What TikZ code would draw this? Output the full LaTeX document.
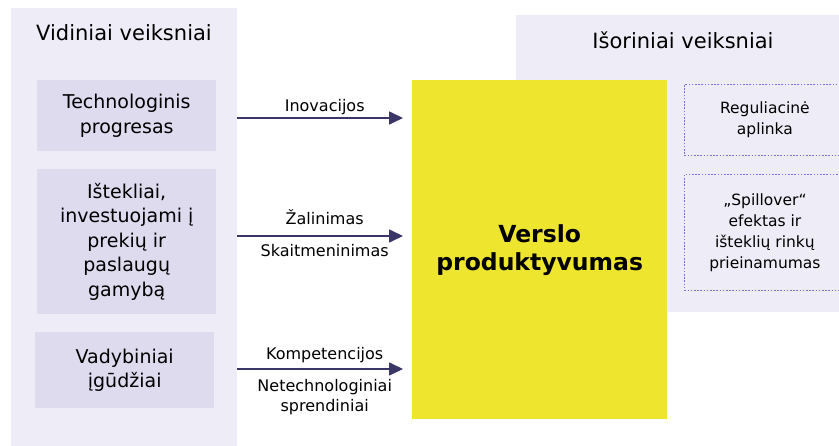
\documentclass[tikz,border=0pt]{standalone}
\usepackage{fontspec}
\setmainfont{DejaVu Sans}
\usetikzlibrary{arrows.meta,positioning}
\definecolor{panelfill}{HTML}{EEEDF7}
\definecolor{boxfill}{HTML}{DFDBEF}
\definecolor{prodyellow}{HTML}{EDE52E}
\definecolor{arrowcol}{HTML}{3B3668}
\definecolor{dashcol}{HTML}{7A6FD6}
\tikzset{
  panel/.style={fill=panelfill,anchor=north west,inner sep=0pt},
  factor/.style={fill=boxfill,anchor=north west,inner sep=0pt,align=center,
    font=\fontsize{19}{24.5}\selectfont},
  extfactor/.style={draw=dashcol,line width=0.8pt,dash pattern=on 1.6pt off 1.6pt,
    anchor=north west,inner sep=0pt,align=center,font=\fontsize{15.5}{21}\selectfont},
  title/.style={font=\fontsize{21}{25}\selectfont},
  flow/.style={draw=arrowcol,line width=1.6pt,-{Triangle[length=14pt,width=13pt]}},
  lbl/.style={anchor=base,align=center,inner sep=0pt,font=\fontsize{16}{20}\selectfont}
}
\begin{document}
\begin{tikzpicture}[x=1pt,y=-1pt]
\useasboundingbox (0,0) rectangle (839,446);
\node[panel,minimum width=226pt,minimum height=440pt] (vid) at (11,8) {};
\node[title] (vidtitle) at (124,33) {Vidiniai veiksniai};
\node[factor,minimum width=179pt,minimum height=71pt] (tech) at (37,80) {Technologinis\\progresas};
\node[factor,minimum width=179pt,minimum height=145pt] (res) at (37,169) {Ištekliai,\\investuojami į\\prekių ir\\paslaugų\\gamybą};
\node[factor,minimum width=179pt,minimum height=76pt] (mgmt) at (35,332) {Vadybiniai\\įgūdžiai};
\node[panel,minimum width=330pt,minimum height=297pt] (isor) at (516,15) {};
\node[title] (isortitle) at (683,40) {Išoriniai veiksniai};
\node[panel,fill=prodyellow,minimum width=255pt,minimum height=339pt,align=center,
  font=\bfseries\fontsize{23.5}{28}\selectfont] (prod) at (412,80) {Verslo\\produktyvumas};
\node[extfactor,minimum width=161pt,minimum height=71pt] (reg) at (684,84) {Reguliacinė\\aplinka};
\node[extfactor,minimum width=161pt,minimum height=116pt] (spill) at (684,174) {„Spillover“\\efektas ir\\išteklių rinkų\\prieinamumas};
\coordinate (a1) at (vid.east |- 0,118);
\coordinate (a2) at (vid.east |- 0,236);
\coordinate (a3) at (vid.east |- 0,369);
\draw[flow,shorten >=9pt] (a1) -- (a1 -| prod.west)
  node[lbl,midway,yshift=6pt] {Inovacijos};
\draw[flow,shorten >=9pt] (a2) -- (a2 -| prod.west)
  node[lbl,midway,yshift=11pt] {Žalinimas}
  node[lbl,midway,yshift=-21pt] {Skaitmeninimas};
\draw[flow,shorten >=9pt] (a3) -- (a3 -| prod.west)
  node[lbl,midway,yshift=9pt] {Kompetencijos}
  node[lbl,midway,anchor=north,yshift=-10pt] {Netechnologiniai\\sprendiniai};
\end{tikzpicture}
\end{document}
